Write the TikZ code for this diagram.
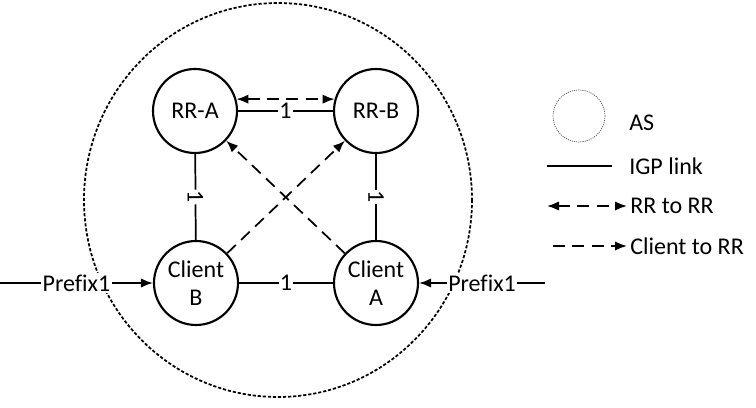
\documentclass[tikz,border=0pt]{standalone}
\usepackage{fontspec}
\setmainfont{Carlito}[Ligatures=NoCommon]
\usetikzlibrary{arrows.meta}
\begin{document}
\begin{tikzpicture}[x=0.75pt,y=-0.75pt,>={Latex[length=9pt,width=7pt]},line join=round,
  font=\fontsize{18}{21}\selectfont,
  router/.style={circle,draw,line width=1.6pt,minimum size=63pt,inner sep=0pt,align=center},
  igp/.style={line width=1.3pt},
  bgp/.style={line width=1.3pt,dash pattern=on 9pt off 5.5pt},
  cost/.style={fill=white,inner sep=1pt},
  legtext/.style={anchor=west,inner sep=0pt}]
\useasboundingbox (0,0) rectangle (756,407);
% AS
\draw[line width=1.3pt,dash pattern=on 2.4pt off 1.4pt] (278,200) ellipse [x radius=194,y radius=197];
% routers
\node[router] (rra) at (195,111) {RR-A};
\node[router] (rrb) at (376,111) {RR-B};
\node[router] (clb) at (196,283) {Client\\B};
\node[router] (cla) at (376,283) {Client\\A};
% IGP links
\draw[igp] (rra) -- node[cost]{1} (rrb);
\draw[igp] (rra) -- node[cost,sloped]{1} (clb);
\draw[igp] (rrb) -- node[cost,sloped]{1} (cla);
\draw[igp] (clb) -- node[cost]{1} (cla);
% BGP sessions
\draw[bgp,<->] (rra.16) -- (rrb.164);
\draw[bgp,->] (clb) -- (rrb);
\draw[bgp,->] (cla) -- (rra);
% prefixes
\coordinate (inl) at (0,283); \coordinate (inr) at (545,283);
\draw[igp,->] (inl) -- node[cost]{Prefix1} (clb);
\draw[igp,->] (inr) -- node[cost]{Prefix1} (cla);
% legend
\node[circle,draw=gray!70!black,line width=0.6pt,dash pattern=on 0.8pt off 0.8pt,minimum size=39pt] (as) at (579,116) {};
\node[legtext] (aslbl) at (629,123) {AS};
\coordinate (ga) at (547,166); \coordinate (gb) at (612,166);
\draw[igp] (ga) -- (gb);
\node[legtext] (gl) at (629,166) {IGP link};
\coordinate (ra) at (547,206); \coordinate (rb) at (627,206);
\draw[bgp,<->] (ra) -- (rb);
\node[legtext] (rl) at (630,206) {RR to RR};
\coordinate (ca) at (553,246); \coordinate (cb) at (627,246);
\draw[bgp,->] (ca) -- (cb);
\node[legtext] (cl) at (630,246) {Client to RR};
\end{tikzpicture}
\end{document}
